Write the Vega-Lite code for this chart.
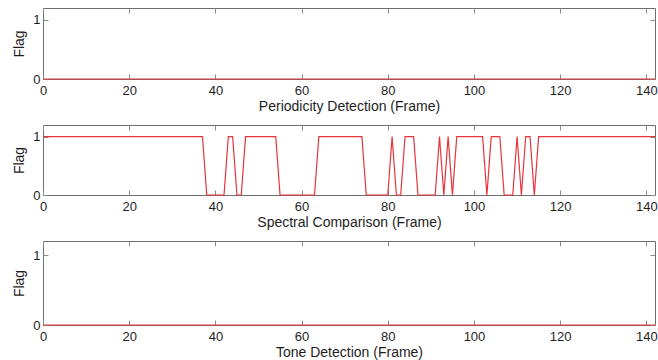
{
  "$schema": "https://vega.github.io/schema/vega-lite/v6.json",
  "padding": {"left": 12, "top": 7, "right": 0, "bottom": 0},
  "background": "white",
  "bounds": "flush",
  "spacing": 46,
  "config": {
    "font": "Liberation Sans",
    "view": {"stroke": "#6e6e6e", "strokeWidth": 1},
    "axis": {
      "labelFont": "Liberation Sans", "labelFontSize": 13, "labelColor": "#1e1e1e", "format": "d",
      "titleFont": "Liberation Sans", "titleFontSize": 14, "titleFontWeight": "normal", "titleColor": "#1e1e1e",
      "tickColor": "#8a8a8a", "grid": false, "domain": false, "labelFlush": false
    }
  },
  "datasets": {
    "periodicity": [{"f":0,"v":0},{"f":1,"v":0},{"f":2,"v":0},{"f":3,"v":0},{"f":4,"v":0},{"f":5,"v":0},{"f":6,"v":0},{"f":7,"v":0},{"f":8,"v":0},{"f":9,"v":0},{"f":10,"v":0},{"f":11,"v":0},{"f":12,"v":0},{"f":13,"v":0},{"f":14,"v":0},{"f":15,"v":0},{"f":16,"v":0},{"f":17,"v":0},{"f":18,"v":0},{"f":19,"v":0},{"f":20,"v":0},{"f":21,"v":0},{"f":22,"v":0},{"f":23,"v":0},{"f":24,"v":0},{"f":25,"v":0},{"f":26,"v":0},{"f":27,"v":0},{"f":28,"v":0},{"f":29,"v":0},{"f":30,"v":0},{"f":31,"v":0},{"f":32,"v":0},{"f":33,"v":0},{"f":34,"v":0},{"f":35,"v":0},{"f":36,"v":0},{"f":37,"v":0},{"f":38,"v":0},{"f":39,"v":0},{"f":40,"v":0},{"f":41,"v":0},{"f":42,"v":0},{"f":43,"v":0},{"f":44,"v":0},{"f":45,"v":0},{"f":46,"v":0},{"f":47,"v":0},{"f":48,"v":0},{"f":49,"v":0},{"f":50,"v":0},{"f":51,"v":0},{"f":52,"v":0},{"f":53,"v":0},{"f":54,"v":0},{"f":55,"v":0},{"f":56,"v":0},{"f":57,"v":0},{"f":58,"v":0},{"f":59,"v":0},{"f":60,"v":0},{"f":61,"v":0},{"f":62,"v":0},{"f":63,"v":0},{"f":64,"v":0},{"f":65,"v":0},{"f":66,"v":0},{"f":67,"v":0},{"f":68,"v":0},{"f":69,"v":0},{"f":70,"v":0},{"f":71,"v":0},{"f":72,"v":0},{"f":73,"v":0},{"f":74,"v":0},{"f":75,"v":0},{"f":76,"v":0},{"f":77,"v":0},{"f":78,"v":0},{"f":79,"v":0},{"f":80,"v":0},{"f":81,"v":0},{"f":82,"v":0},{"f":83,"v":0},{"f":84,"v":0},{"f":85,"v":0},{"f":86,"v":0},{"f":87,"v":0},{"f":88,"v":0},{"f":89,"v":0},{"f":90,"v":0},{"f":91,"v":0},{"f":92,"v":0},{"f":93,"v":0},{"f":94,"v":0},{"f":95,"v":0},{"f":96,"v":0},{"f":97,"v":0},{"f":98,"v":0},{"f":99,"v":0},{"f":100,"v":0},{"f":101,"v":0},{"f":102,"v":0},{"f":103,"v":0},{"f":104,"v":0},{"f":105,"v":0},{"f":106,"v":0},{"f":107,"v":0},{"f":108,"v":0},{"f":109,"v":0},{"f":110,"v":0},{"f":111,"v":0},{"f":112,"v":0},{"f":113,"v":0},{"f":114,"v":0},{"f":115,"v":0},{"f":116,"v":0},{"f":117,"v":0},{"f":118,"v":0},{"f":119,"v":0},{"f":120,"v":0},{"f":121,"v":0},{"f":122,"v":0},{"f":123,"v":0},{"f":124,"v":0},{"f":125,"v":0},{"f":126,"v":0},{"f":127,"v":0},{"f":128,"v":0},{"f":129,"v":0},{"f":130,"v":0},{"f":131,"v":0},{"f":132,"v":0},{"f":133,"v":0},{"f":134,"v":0},{"f":135,"v":0},{"f":136,"v":0},{"f":137,"v":0},{"f":138,"v":0},{"f":139,"v":0},{"f":140,"v":0},{"f":141,"v":0},{"f":142,"v":0}],
    "spectral": [{"f":0,"v":1},{"f":1,"v":1},{"f":2,"v":1},{"f":3,"v":1},{"f":4,"v":1},{"f":5,"v":1},{"f":6,"v":1},{"f":7,"v":1},{"f":8,"v":1},{"f":9,"v":1},{"f":10,"v":1},{"f":11,"v":1},{"f":12,"v":1},{"f":13,"v":1},{"f":14,"v":1},{"f":15,"v":1},{"f":16,"v":1},{"f":17,"v":1},{"f":18,"v":1},{"f":19,"v":1},{"f":20,"v":1},{"f":21,"v":1},{"f":22,"v":1},{"f":23,"v":1},{"f":24,"v":1},{"f":25,"v":1},{"f":26,"v":1},{"f":27,"v":1},{"f":28,"v":1},{"f":29,"v":1},{"f":30,"v":1},{"f":31,"v":1},{"f":32,"v":1},{"f":33,"v":1},{"f":34,"v":1},{"f":35,"v":1},{"f":36,"v":1},{"f":37,"v":1},{"f":38,"v":0},{"f":39,"v":0},{"f":40,"v":0},{"f":41,"v":0},{"f":42,"v":0},{"f":43,"v":1},{"f":44,"v":1},{"f":45,"v":0},{"f":46,"v":0},{"f":47,"v":1},{"f":48,"v":1},{"f":49,"v":1},{"f":50,"v":1},{"f":51,"v":1},{"f":52,"v":1},{"f":53,"v":1},{"f":54,"v":1},{"f":55,"v":0},{"f":56,"v":0},{"f":57,"v":0},{"f":58,"v":0},{"f":59,"v":0},{"f":60,"v":0},{"f":61,"v":0},{"f":62,"v":0},{"f":63,"v":0},{"f":64,"v":1},{"f":65,"v":1},{"f":66,"v":1},{"f":67,"v":1},{"f":68,"v":1},{"f":69,"v":1},{"f":70,"v":1},{"f":71,"v":1},{"f":72,"v":1},{"f":73,"v":1},{"f":74,"v":1},{"f":75,"v":0},{"f":76,"v":0},{"f":77,"v":0},{"f":78,"v":0},{"f":79,"v":0},{"f":80,"v":0},{"f":81,"v":1},{"f":82,"v":0},{"f":83,"v":0},{"f":84,"v":1},{"f":85,"v":1},{"f":86,"v":1},{"f":87,"v":0},{"f":88,"v":0},{"f":89,"v":0},{"f":90,"v":0},{"f":91,"v":0},{"f":92,"v":1},{"f":93,"v":0},{"f":94,"v":1},{"f":95,"v":0},{"f":96,"v":1},{"f":97,"v":1},{"f":98,"v":1},{"f":99,"v":1},{"f":100,"v":1},{"f":101,"v":1},{"f":102,"v":1},{"f":103,"v":0},{"f":104,"v":1},{"f":105,"v":1},{"f":106,"v":1},{"f":107,"v":0},{"f":108,"v":0},{"f":109,"v":0},{"f":110,"v":1},{"f":111,"v":0},{"f":112,"v":1},{"f":113,"v":1},{"f":114,"v":0},{"f":115,"v":1},{"f":116,"v":1},{"f":117,"v":1},{"f":118,"v":1},{"f":119,"v":1},{"f":120,"v":1},{"f":121,"v":1},{"f":122,"v":1},{"f":123,"v":1},{"f":124,"v":1},{"f":125,"v":1},{"f":126,"v":1},{"f":127,"v":1},{"f":128,"v":1},{"f":129,"v":1},{"f":130,"v":1},{"f":131,"v":1},{"f":132,"v":1},{"f":133,"v":1},{"f":134,"v":1},{"f":135,"v":1},{"f":136,"v":1},{"f":137,"v":1},{"f":138,"v":1},{"f":139,"v":1},{"f":140,"v":1},{"f":141,"v":1},{"f":142,"v":1}],
    "tone": [{"f":0,"v":0},{"f":1,"v":0},{"f":2,"v":0},{"f":3,"v":0},{"f":4,"v":0},{"f":5,"v":0},{"f":6,"v":0},{"f":7,"v":0},{"f":8,"v":0},{"f":9,"v":0},{"f":10,"v":0},{"f":11,"v":0},{"f":12,"v":0},{"f":13,"v":0},{"f":14,"v":0},{"f":15,"v":0},{"f":16,"v":0},{"f":17,"v":0},{"f":18,"v":0},{"f":19,"v":0},{"f":20,"v":0},{"f":21,"v":0},{"f":22,"v":0},{"f":23,"v":0},{"f":24,"v":0},{"f":25,"v":0},{"f":26,"v":0},{"f":27,"v":0},{"f":28,"v":0},{"f":29,"v":0},{"f":30,"v":0},{"f":31,"v":0},{"f":32,"v":0},{"f":33,"v":0},{"f":34,"v":0},{"f":35,"v":0},{"f":36,"v":0},{"f":37,"v":0},{"f":38,"v":0},{"f":39,"v":0},{"f":40,"v":0},{"f":41,"v":0},{"f":42,"v":0},{"f":43,"v":0},{"f":44,"v":0},{"f":45,"v":0},{"f":46,"v":0},{"f":47,"v":0},{"f":48,"v":0},{"f":49,"v":0},{"f":50,"v":0},{"f":51,"v":0},{"f":52,"v":0},{"f":53,"v":0},{"f":54,"v":0},{"f":55,"v":0},{"f":56,"v":0},{"f":57,"v":0},{"f":58,"v":0},{"f":59,"v":0},{"f":60,"v":0},{"f":61,"v":0},{"f":62,"v":0},{"f":63,"v":0},{"f":64,"v":0},{"f":65,"v":0},{"f":66,"v":0},{"f":67,"v":0},{"f":68,"v":0},{"f":69,"v":0},{"f":70,"v":0},{"f":71,"v":0},{"f":72,"v":0},{"f":73,"v":0},{"f":74,"v":0},{"f":75,"v":0},{"f":76,"v":0},{"f":77,"v":0},{"f":78,"v":0},{"f":79,"v":0},{"f":80,"v":0},{"f":81,"v":0},{"f":82,"v":0},{"f":83,"v":0},{"f":84,"v":0},{"f":85,"v":0},{"f":86,"v":0},{"f":87,"v":0},{"f":88,"v":0},{"f":89,"v":0},{"f":90,"v":0},{"f":91,"v":0},{"f":92,"v":0},{"f":93,"v":0},{"f":94,"v":0},{"f":95,"v":0},{"f":96,"v":0},{"f":97,"v":0},{"f":98,"v":0},{"f":99,"v":0},{"f":100,"v":0},{"f":101,"v":0},{"f":102,"v":0},{"f":103,"v":0},{"f":104,"v":0},{"f":105,"v":0},{"f":106,"v":0},{"f":107,"v":0},{"f":108,"v":0},{"f":109,"v":0},{"f":110,"v":0},{"f":111,"v":0},{"f":112,"v":0},{"f":113,"v":0},{"f":114,"v":0},{"f":115,"v":0},{"f":116,"v":0},{"f":117,"v":0},{"f":118,"v":0},{"f":119,"v":0},{"f":120,"v":0},{"f":121,"v":0},{"f":122,"v":0},{"f":123,"v":0},{"f":124,"v":0},{"f":125,"v":0},{"f":126,"v":0},{"f":127,"v":0},{"f":128,"v":0},{"f":129,"v":0},{"f":130,"v":0},{"f":131,"v":0},{"f":132,"v":0},{"f":133,"v":0},{"f":134,"v":0},{"f":135,"v":0},{"f":136,"v":0},{"f":137,"v":0},{"f":138,"v":0},{"f":139,"v":0},{"f":140,"v":0},{"f":141,"v":0},{"f":142,"v":0}]
  },
  "vconcat": [
    {
      "width": 612, "height": 71,
      "data": {"name": "periodicity"},
      "layer": [
        {
          "mark": {"type": "line", "color": "#e8343c", "strokeWidth": 1.2, "clip": false},
          "encoding": {
            "x": {"field": "f", "type": "quantitative", "scale": {"domain": [0, 142], "nice": false, "zero": false},
              "axis": {"orient": "bottom", "values": [0, 20, 40, 60, 80, 100, 120, 140], "title": "Periodicity Detection (Frame)", "tickSize": -5, "labelPadding": 10, "titlePadding": 2}},
            "y": {"field": "v", "type": "quantitative", "scale": {"domain": [0, 1.2], "nice": false},
              "axis": {"orient": "left", "values": [0, 1], "title": "Flag", "tickSize": -5, "labelPadding": 8, "titlePadding": 6}}
          }
        },
        {
          "mark": {"type": "line", "opacity": 0},
          "encoding": {
            "x": {"field": "f", "type": "quantitative", "axis": {"orient": "top", "values": [0, 20, 40, 60, 80, 100, 120, 140], "labels": false, "title": null, "tickSize": -5}},
            "y": {"field": "v", "type": "quantitative", "axis": {"orient": "right", "values": [0, 1], "labels": false, "title": null, "tickSize": -5}}
          }
        }
      ],
      "resolve": {"axis": {"x": "independent", "y": "independent"}}
    },
    {
      "width": 612, "height": 70,
      "data": {"name": "spectral"},
      "layer": [
        {
          "mark": {"type": "line", "color": "#e8343c", "strokeWidth": 1.2, "clip": false},
          "encoding": {
            "x": {"field": "f", "type": "quantitative", "scale": {"domain": [0, 142], "nice": false, "zero": false},
              "axis": {"orient": "bottom", "values": [0, 20, 40, 60, 80, 100, 120, 140], "title": "Spectral Comparison (Frame)", "tickSize": -5, "labelPadding": 10, "titlePadding": 2}},
            "y": {"field": "v", "type": "quantitative", "scale": {"domain": [0, 1.2], "nice": false},
              "axis": {"orient": "left", "values": [0, 1], "title": "Flag", "tickSize": -5, "labelPadding": 8, "titlePadding": 6}}
          }
        },
        {
          "mark": {"type": "line", "opacity": 0},
          "encoding": {
            "x": {"field": "f", "type": "quantitative", "axis": {"orient": "top", "values": [0, 20, 40, 60, 80, 100, 120, 140], "labels": false, "title": null, "tickSize": -5}},
            "y": {"field": "v", "type": "quantitative", "axis": {"orient": "right", "values": [0, 1], "labels": false, "title": null, "tickSize": -5}}
          }
        }
      ],
      "resolve": {"axis": {"x": "independent", "y": "independent"}}
    },
    {
      "width": 612, "height": 84,
      "data": {"name": "tone"},
      "layer": [
        {
          "mark": {"type": "line", "color": "#e8343c", "strokeWidth": 1.2, "clip": false},
          "encoding": {
            "x": {"field": "f", "type": "quantitative", "scale": {"domain": [0, 142], "nice": false, "zero": false},
              "axis": {"orient": "bottom", "values": [0, 20, 40, 60, 80, 100, 120, 140], "title": "Tone Detection (Frame)", "tickSize": -5, "labelPadding": 10, "titlePadding": 2}},
            "y": {"field": "v", "type": "quantitative", "scale": {"domain": [0, 1.2], "nice": false},
              "axis": {"orient": "left", "values": [0, 1], "title": "Flag", "tickSize": -5, "labelPadding": 8, "titlePadding": 6}}
          }
        },
        {
          "mark": {"type": "line", "opacity": 0},
          "encoding": {
            "x": {"field": "f", "type": "quantitative", "axis": {"orient": "top", "values": [0, 20, 40, 60, 80, 100, 120, 140], "labels": false, "title": null, "tickSize": -5}},
            "y": {"field": "v", "type": "quantitative", "axis": {"orient": "right", "values": [0, 1], "labels": false, "title": null, "tickSize": -5}}
          }
        }
      ],
      "resolve": {"axis": {"x": "independent", "y": "independent"}}
    }
  ]
}
